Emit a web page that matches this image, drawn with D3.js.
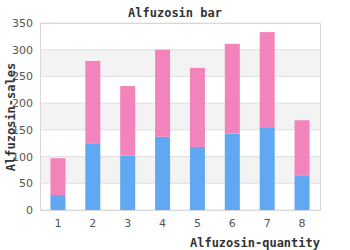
<!DOCTYPE html>
<html>
<head>
<meta charset="utf-8">
<script src="https://cdn.jsdelivr.net/npm/d3@7"></script>
<style>
  body { margin: 0; background: #fff; }
  svg { display: block; }
</style>
</head>
<body>
<div id="chart"></div>
<script>
// data
let categories = ["1", "2", "3", "4", "5", "6", "7", "8"];
let baseValues = [28, 125, 102, 137, 118, 143, 155, 65];
let totalValues = [97, 279, 232, 300, 266, 311, 333, 168];
let yTicks = [0, 50, 100, 150, 200, 250, 300, 350];

let width = 350, height = 250;
let margin = {top: 23, right: 30, bottom: 40, left: 40};
let plotW = width - margin.left - margin.right;
let plotH = height - margin.top - margin.bottom;

let svg = d3.select("#chart").append("svg")
    .attr("width", width)
    .attr("height", height);

let xScale = d3.scaleBand().domain(categories).range([0, plotW]).paddingInner(0.57).paddingOuter(0.3);
let yScale = d3.scaleLinear().domain([0, 350]).range([plotH, 0]);

let g = svg.append("g").attr("transform", "translate(" + margin.left + "," + margin.top + ")");

// alternating bands
let bands = d3.pairs(yTicks).filter((d, i) => i % 2 === 1);
g.selectAll(".band").data(bands).enter().append("rect")
    .attr("x", 0)
    .attr("width", plotW)
    .attr("y", d => yScale(d[1]))
    .attr("height", d => yScale(d[0]) - yScale(d[1]))
    .style("fill", "#f3f3f3");

g.selectAll(".grid").data(yTicks).enter().append("line")
    .attr("x1", 0).attr("x2", plotW)
    .attr("y1", d => yScale(d)).attr("y2", d => yScale(d))
    .style("stroke", "#e0e0e0").style("stroke-width", 1);

// stacked bars
g.selectAll(".baseBar").data(categories).enter().append("rect")
    .attr("x", d => xScale(d))
    .attr("width", xScale.bandwidth())
    .attr("y", (d, i) => yScale(baseValues[i]))
    .attr("height", (d, i) => plotH - yScale(baseValues[i]))
    .style("fill", "#60a8f2");

g.selectAll(".topBar").data(categories).enter().append("rect")
    .attr("x", d => xScale(d))
    .attr("width", xScale.bandwidth())
    .attr("y", (d, i) => yScale(totalValues[i]))
    .attr("height", (d, i) => yScale(baseValues[i]) - yScale(totalValues[i]))
    .style("fill", "#f384bb");

// frame
g.append("rect")
    .attr("x", 0.5).attr("y", 0.5)
    .attr("width", plotW).attr("height", plotH)
    .style("fill", "none").style("stroke", "#d8d8d8");

// axes
let yAxis = d3.axisLeft(yScale).tickValues(yTicks).tickSize(0).tickPadding(7);
let xAxis = d3.axisBottom(xScale).tickSize(0).tickPadding(9);

let yAx = g.append("g").call(yAxis);
let xAx = g.append("g").attr("transform", "translate(0," + plotH + ")").call(xAxis);
[yAx, xAx].forEach(a => {
    a.select(".domain").remove();
    a.selectAll("text")
        .style("font-family", "DejaVu Sans")
        .style("font-size", "11px")
        .style("fill", "#555");
});

// titles
svg.append("text")
    .attr("x", 175).attr("y", 17)
    .attr("text-anchor", "middle")
    .style("font-family", "DejaVu Sans Mono")
    .style("font-weight", "bold")
    .style("font-size", "12px")
    .style("fill", "#333")
    .text("Alfuzosin bar");

svg.append("text")
    .attr("x", 320).attr("y", 247)
    .attr("text-anchor", "end")
    .style("font-family", "DejaVu Sans Mono")
    .style("font-weight", "bold")
    .style("font-size", "12px")
    .style("fill", "#333")
    .text("Alfuzosin-quantity");

svg.append("text")
    .attr("transform", "translate(15,117) rotate(-90)")
    .attr("text-anchor", "middle")
    .style("font-family", "DejaVu Sans Mono")
    .style("font-weight", "bold")
    .style("font-size", "12px")
    .style("fill", "#333")
    .text("Alfuzosin-sales");
</script>
</body>
</html>
